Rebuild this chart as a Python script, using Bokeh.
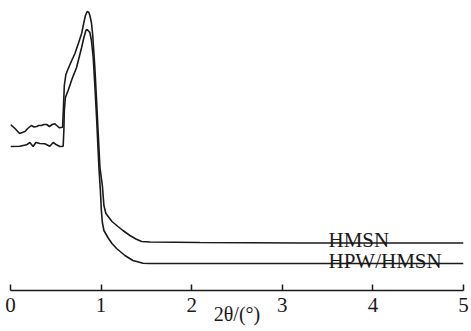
from bokeh.plotting import figure
from bokeh.models import Range1d, FixedTicker
from bokeh.core.properties import value
from bokeh.embed import file_html
from bokeh.resources import INLINE

# Small-angle XRD patterns, 2θ in degrees vs. intensity (a.u., stacked)
hmsn_2theta = [0.00, 0.05, 0.10, 0.16, 0.19, 0.23, 0.26, 0.29, 0.31, 0.34, 0.37, 0.40,
               0.43, 0.46, 0.49, 0.51, 0.54, 0.575, 0.583, 0.594, 0.611, 0.633, 0.666,
               0.711, 0.749, 0.785, 0.810, 0.827, 0.846, 0.865, 0.876, 0.893, 0.906,
               0.931, 0.950, 0.968, 0.987, 1.014, 1.031, 1.053, 1.120, 1.186, 1.241,
               1.318, 1.384, 1.448, 1.54, 2.09, 3.20, 5.00]
hmsn_intensity = [166, 162, 157, 159, 162, 165, 163.5, 164, 165, 165, 166, 166,
                  164, 166, 166.7, 165, 162.7, 163.3, 180, 205, 216, 221, 228,
                  237, 247, 257, 268, 275, 279, 278, 275, 268, 257,
                  223, 190, 157, 123, 105, 85, 77, 69, 64, 60,
                  55, 51.5, 49, 48.5, 48, 47.5, 47.5]

hpw_2theta = [0.00, 0.103, 0.177, 0.213, 0.250, 0.280, 0.324, 0.379, 0.434, 0.471,
              0.508, 0.545, 0.581, 0.589, 0.594, 0.606, 0.636, 0.677, 0.729, 0.785,
              0.810, 0.832, 0.846, 0.876, 0.893, 0.913, 0.931, 0.950, 0.976, 0.992,
              1.003, 1.014, 1.031, 1.075, 1.120, 1.171, 1.263, 1.351, 1.462, 1.539, 5.00]
hpw_intensity = [144, 144.3, 145.7, 148, 144, 148, 147, 146.7, 144.3, 148,
                 145.7, 144, 144.3, 160, 180, 193, 200, 211, 223, 243,
                 253, 260, 261, 258, 250, 233, 205, 173, 123, 100,
                 80, 68, 60, 53, 47, 42, 35, 30, 27.3, 27, 27]

series_names = ["HMSN", "HPW/HMSN"]
x_ticks = [0, 1, 2, 3, 4, 5]

SERIF = "Liberation Serif"
INK = "#1a1a1a"

p = figure(width=471, height=331,
           x_range=Range1d(0, 5), y_range=Range1d(0, 290),
           min_border_left=10, min_border_right=8,
           min_border_top=0, min_border_bottom=41,
           y_axis_location=None,
           output_backend="svg", toolbar_location=None)

p.outline_line_color = None
p.grid.visible = False
p.background_fill_color = "white"
p.border_fill_color = "white"

p.line(hmsn_2theta, hmsn_intensity, line_color=INK, line_width=1.6)
p.line(hpw_2theta, hpw_intensity, line_color=INK, line_width=1.6)

# Series names sit just above the flat tails, left edge at 2θ = 3.51
label_x = 3.51
p.text(x=[label_x, label_x],
       y=[hmsn_intensity[-1], hpw_intensity[-1]],
       text=series_names,
       text_font=value(SERIF), text_font_size="21px",
       text_color=INK, text_align="left", text_baseline="alphabetic",
       y_offset=-3)

ax = p.xaxis[0]
ax.ticker = FixedTicker(ticks=x_ticks)
ax.minor_tick_line_color = None
ax.major_tick_in = 6
ax.major_tick_out = 0
ax.axis_line_color = INK
ax.axis_line_width = 1.5
ax.major_tick_line_color = INK
ax.major_tick_line_width = 1.5
ax.major_label_text_font = SERIF
ax.major_label_text_font_size = "21px"
ax.major_label_text_color = INK
ax.major_label_standoff = 7
ax.axis_label = "2θ/(°)"
ax.axis_label_text_font = SERIF
ax.axis_label_text_font_size = "20px"
ax.axis_label_text_font_style = "normal"
ax.axis_label_text_color = INK
ax.axis_label_standoff = -12

open("out.html", "w").write(file_html(p, INLINE))
